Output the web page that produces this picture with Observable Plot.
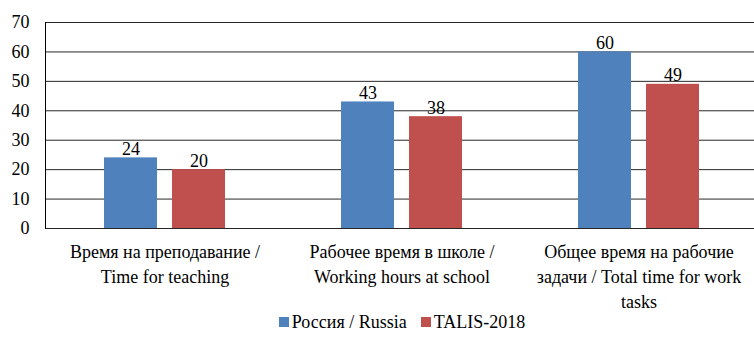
<!DOCTYPE html>
<html><head><meta charset="utf-8">
<script src="https://cdn.jsdelivr.net/npm/d3@7"></script>
<script src="https://cdn.jsdelivr.net/npm/@observablehq/plot@0.6"></script>
<style>
body{margin:0;background:#fff;font-family:"Liberation Serif","Times New Roman",Times,Tinos,"Nimbus Roman","Nimbus Roman No9 L",FreeSerif,"DejaVu Serif","Noto Serif",serif;}
#legend{display:flex;justify-content:center;align-items:center;gap:14px;font-size:18px;line-height:18px;color:#000;margin-left:50px;}
#legend .item{display:flex;align-items:center;gap:3px;}
#legend .sw{width:10px;height:10px;display:inline-block;}
</style></head><body><div id="chart"></div><div id="legend"></div><script>
const categories = [
  "Время на преподавание /\nTime for teaching",
  "Рабочее время в школе /\nWorking hours at school",
  "Общее время на рабочие\nзадачи / Total time for work\ntasks"
];
const series = ["Россия / Russia", "TALIS-2018"];
const russia = [24, 43, 60];
const talis = [20, 38, 49];
const colors = ["#4F81BD", "#C0504D"];
const yTicks = [0, 10, 20, 30, 40, 50, 60, 70];

const russiaData = categories.map((c, i) => ({category: c, series: series[0], value: russia[i]}));
const talisData = categories.map((c, i) => ({category: c, series: series[1], value: talis[i]}));

// each category band holds two bars of 53px separated by a 15px gap
const barInset = 68;
const labelShift = 34;
const serif = '"Liberation Serif","Times New Roman",Times,Tinos,"Nimbus Roman","Nimbus Roman No9 L",FreeSerif,"DejaVu Serif","Noto Serif",serif';

const plot = Plot.plot({
  width: 754, height: 313,
  marginLeft: 45, marginRight: -4, marginTop: 22, marginBottom: 85,
  style: {fontFamily: serif, fontSize: "18px", color: "#000", background: "#fff", overflow: "visible"},
  x: {domain: categories, paddingInner: 0.49, paddingOuter: 0.245, axis: null},
  y: {domain: [0, 70], axis: null},
  color: {domain: series, range: colors},
  marks: [
    Plot.ruleY(yTicks, {y: d => d, stroke: "#000", strokeWidth: 1, strokeOpacity: 0.85}),
    Plot.frame({anchor: "left", stroke: "#000"}),
    Plot.barY(russiaData, {x: "category", y: "value", fill: "series", insetRight: barInset}),
    Plot.barY(talisData, {x: "category", y: "value", fill: "series", insetLeft: barInset}),
    Plot.text(russiaData, {x: "category", y: "value", text: d => String(d.value), lineAnchor: "bottom", dx: -labelShift, dy: -3, fontSize: 18, fontFamily: serif, fill: "#000"}),
    Plot.text(talisData, {x: "category", y: "value", text: d => String(d.value), lineAnchor: "bottom", dx: labelShift, dy: -3, fontSize: 18, fontFamily: serif, fill: "#000"}),
    Plot.axisY({ticks: yTicks, tickSize: 0, tickPadding: 16, label: null, fontSize: 18, fontFamily: serif}),
    Plot.axisX({tickSize: 0, tickPadding: 12, label: null, fontSize: 18, fontFamily: serif, lineHeight: 1.38})
  ]
});
document.getElementById("chart").appendChild(plot);

const lg = document.getElementById("legend");
series.forEach((s, i) => {
  const it = document.createElement("span");
  it.className = "item";
  const sw = document.createElement("span");
  sw.className = "sw";
  sw.style.background = colors[i];
  it.appendChild(sw);
  it.appendChild(document.createTextNode(s));
  lg.appendChild(it);
});
</script></body></html>
